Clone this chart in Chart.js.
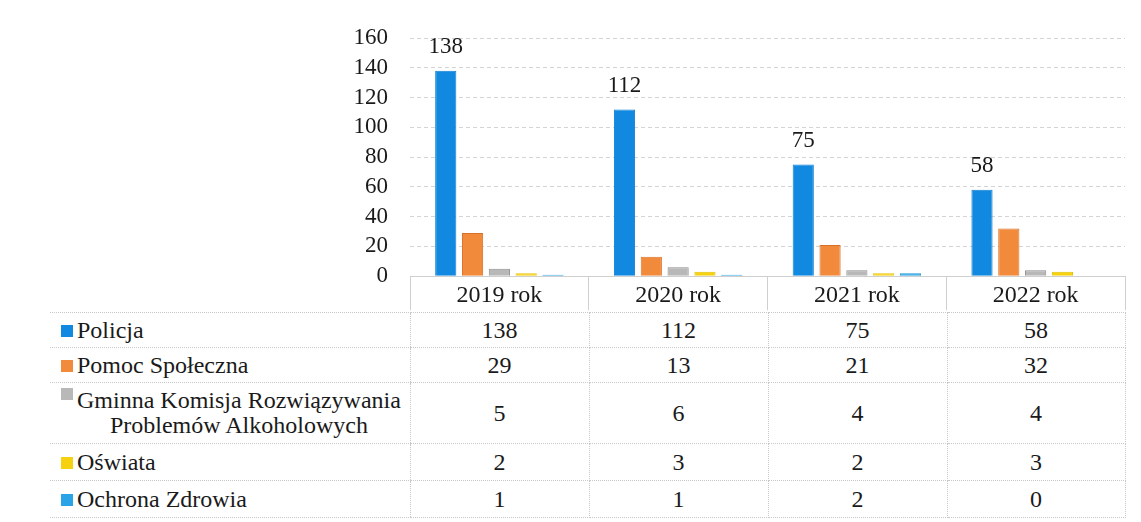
<!DOCTYPE html>
<html lang="pl">
<head>
    <meta charset="UTF-8">
    <title>Wykres</title>
    <script src="https://cdn.jsdelivr.net/npm/chart.js@4.4.0/dist/chart.umd.min.js"></script>
    <style>
        body {
            margin: 0;
            padding: 0;
            background: #fff;
            font-family: "Liberation Serif", Tinos, "Times New Roman", "DejaVu Serif", serif;
            color: #1a1a1a;
        }
        .chart-box {
            position: absolute;
            left: 0;
            top: 0;
            width: 1141px;
            height: 312px;
        }
        /* data table under the chart */
        #dataTable {
            position: absolute;
            left: 50px;
            top: 312px;
            border-collapse: collapse;
            table-layout: fixed;
            font-size: 24px;
            font-family: "Liberation Serif", Tinos, "Times New Roman", "DejaVu Serif", serif;
        }
        #dataTable td {
            border-top: 1px dotted #c8c8c8;
            border-bottom: 1px dotted #c8c8c8;
            padding: 0;
            line-height: 25px;
        }
        #dataTable td.val {
            text-align: center;
            border-left: 1px dotted #c8c8c8;
            border-right: 1px dotted #c8c8c8;
        }
        #dataTable td.name {
            padding-left: 11px;
        }
        .sw {
            display: inline-block;
            width: 12px;
            height: 12px;
            margin-right: 4px;
            vertical-align: 1px;
        }
        .multi {
            display: inline-block;
            text-align: center;
            vertical-align: top;
        }
    </style>
</head>
<body>
    <div class="chart-box">
        <canvas id="barChart"></canvas>
    </div>
    <table id="dataTable"></table>

    <script>
        // data
        const years = ['2019 rok', '2020 rok', '2021 rok', '2022 rok'];
        const seriesNames = ['Policja', 'Pomoc Społeczna', 'Gminna Komisja Rozwiązywania\nProblemów Alkoholowych', 'Oświata', 'Ochrona Zdrowia'];
        const policja = [138, 112, 75, 58];
        const pomocSpoleczna = [29, 13, 21, 32];
        const gkrpa = [5, 6, 4, 4];
        const oswiata = [2, 3, 2, 3];
        const ochronaZdrowia = [1, 1, 2, 0];
        const yTicks = [0, 20, 40, 60, 80, 100, 120, 140, 160];

        const allSeries = [policja, pomocSpoleczna, gkrpa, oswiata, ochronaZdrowia];
        const fills = ['#1289e0', '#f28a3c', '#b8b8b8', '#f5d10f', '#2aa4e6'];
        const edges = ['#0f7fd0', '#d9702a', '#8f8f8f', '#e8c000', '#1f94d6'];
        const rowHeights = [35, 35, 61, 37, 37];

        const serif = '"Liberation Serif", Tinos, "Times New Roman", "DejaVu Serif", serif';

        // value labels above the first series only
        const valueLabels = {
            id: 'valueLabels',
            afterDatasetsDraw(chart) {
                const ctx = chart.ctx;
                const meta = chart.getDatasetMeta(0);
                ctx.save();
                ctx.font = '23px ' + serif;
                ctx.fillStyle = '#1a1a1a';
                ctx.textAlign = 'center';
                ctx.textBaseline = 'middle';
                meta.data.forEach((bar, i) => {
                    ctx.fillText(String(policja[i]), bar.x, bar.y - 24);
                });
                ctx.restore();
            }
        };

        const barChart = new Chart(document.getElementById('barChart'), {
            type: 'bar',
            data: {
                labels: years,
                datasets: allSeries.map((d, i) => ({
                    label: seriesNames[i],
                    data: d,
                    backgroundColor: fills[i],
                    borderColor: edges[i],
                    borderWidth: 1,
                    categoryPercentage: 0.75,
                    barPercentage: 0.79
                }))
            },
            options: {
                responsive: true,
                maintainAspectRatio: false,
                animation: false,
                layout: { padding: { top: 38, right: 16, left: 0, bottom: 0 } },
                plugins: {
                    legend: { display: false },
                    tooltip: { enabled: false }
                },
                scales: {
                    x: {
                        offset: true,
                        grid: {
                            offset: true,
                            drawOnChartArea: false,
                            drawTicks: true,
                            tickLength: 34,
                            color: '#cfcfcf'
                        },
                        border: { display: true, color: '#cfcfcf' },
                        ticks: {
                            padding: -29,
                            color: '#1a1a1a',
                            font: { family: serif, size: 24 }
                        },
                        afterFit(scale) { scale.height = 34; }
                    },
                    y: {
                        min: 0,
                        max: 160,
                        afterBuildTicks(scale) { scale.ticks = yTicks.map(v => ({ value: v })); },
                        grid: { color: '#d4d4d4', drawTicks: false },
                        border: { display: false, dash: [4, 3] },
                        ticks: {
                            padding: 22,
                            color: '#1a1a1a',
                            font: { family: serif, size: 23 }
                        },
                        afterFit(scale) { scale.width = 410; }
                    }
                }
            },
            plugins: [valueLabels]
        });

        // build the data table from the same arrays
        const table = document.getElementById('dataTable');
        const colGroup = document.createElement('colgroup');
        [360, 179, 179, 179, 178].forEach(w => {
            const c = document.createElement('col');
            c.style.width = w + 'px';
            colGroup.appendChild(c);
        });
        table.appendChild(colGroup);

        allSeries.forEach((d, i) => {
            const tr = document.createElement('tr');
            tr.style.height = rowHeights[i] + 'px';
            const name = document.createElement('td');
            name.className = 'name';
            const sw = document.createElement('span');
            sw.className = 'sw';
            sw.style.background = fills[i];
            name.appendChild(sw);
            const txt = document.createElement('span');
            if (seriesNames[i].includes('\n')) {
                txt.className = 'multi';
                txt.innerHTML = seriesNames[i].split('\n').join('<br>');
                sw.style.verticalAlign = '17px';
            } else {
                txt.textContent = seriesNames[i];
            }
            name.appendChild(txt);
            tr.appendChild(name);
            d.forEach(v => {
                const td = document.createElement('td');
                td.className = 'val';
                td.textContent = v;
                tr.appendChild(td);
            });
            table.appendChild(tr);
        });
    </script>
</body>
</html>
